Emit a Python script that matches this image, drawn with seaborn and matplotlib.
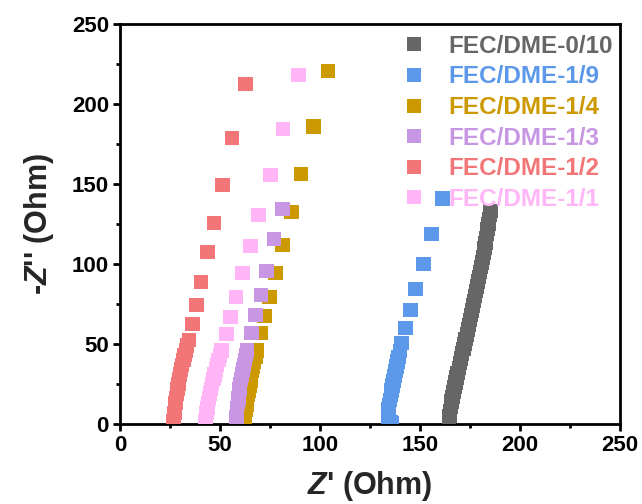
import numpy as np
import pandas as pd
import matplotlib
matplotlib.use("Agg")
import matplotlib.pyplot as plt
from matplotlib.ticker import MultipleLocator
import seaborn as sns

# Nyquist data, Z' and -Z'' in Ohm, for each electrolyte ratio
labels = ["FEC/DME-0/10", "FEC/DME-1/9", "FEC/DME-1/4",
          "FEC/DME-1/3", "FEC/DME-1/2", "FEC/DME-1/1"]
colors = ["#666666", "#5B98EA", "#CC9900", "#C797E3", "#F27678", "#FFB5F6"]

zre_0_10 = [164.5, 164.6, 164.8, 165.1, 165.4, 165.8, 166.3, 166.8, 167.3, 167.7,
            168.2, 168.8, 169.4, 169.9, 170.5, 171.1, 171.7, 172.3, 172.8, 173.4,
            173.9, 174.5, 175.0, 175.6, 176.1, 176.6, 177.1, 177.6, 178.1, 178.6,
            179.1, 179.6, 180.1, 180.6, 181.0, 181.4, 181.9, 182.3, 182.7, 183.1,
            183.5, 183.8, 184.2, 184.6, 184.9, 185.2]
zim_0_10 = [0, 2.5, 5, 8, 11, 14, 17, 20, 23, 26,
            29, 32, 35, 38, 41, 44, 47, 50, 53, 56,
            59, 62, 65, 68, 71, 74, 77, 80, 83, 86,
            89, 92, 95, 98, 101, 104, 107, 110, 113, 116,
            119, 122, 125, 128, 131, 133]

zre_1_9 = [136.0, 135.2, 134.3, 134.0, 134.0, 134.2, 134.6, 135.0, 135.4, 135.8,
           136.3, 136.8, 137.3, 137.8, 138.3, 138.8, 139.3, 139.9,
           140.7, 142.8, 145.3, 147.8, 151.7, 155.7, 161.2]
zim_1_9 = [0.3, 1.2, 2.5, 4.5, 7, 9.5, 12, 15, 18, 21,
           24, 27, 30, 33, 36, 39, 42, 45.5,
           50.8, 60.2, 71.3, 84.2, 100.0, 118.8, 141.0]

zre_1_4 = [62.0, 62.3, 62.6, 62.9, 63.2, 63.6, 64.0, 64.4, 64.8, 65.2,
           65.6, 66.1, 66.6, 67.1, 67.7, 68.5,
           70.5, 72.3, 74.7, 77.7, 81.2, 85.7, 90.5, 96.7, 104.0]
zim_1_4 = [0, 3, 6, 9, 12, 15, 18, 21, 24, 27,
           30, 33, 36, 39, 42, 46,
           57.0, 67.3, 79.6, 94.6, 111.9, 132.3, 156.4, 186.0, 220.4]

zre_1_3 = [58.0, 58.1, 58.2, 58.4, 58.6, 58.9, 59.2, 59.5, 59.8, 60.1,
           60.5, 60.9, 61.4, 61.9, 62.4, 62.9, 63.4,
           65.8, 67.7, 70.5, 73.3, 77.0, 81.2]
zim_1_3 = [0, 2, 4, 7, 10, 13, 16, 19, 22, 25,
           28, 31, 34, 37, 40, 43, 46,
           57.0, 68.1, 80.6, 95.8, 115.4, 134.4]

zre_1_2 = [26.5, 26.7, 26.9, 27.2, 27.5, 27.8, 28.1, 28.4, 28.8, 29.2,
           29.6, 30.1, 30.6, 31.1, 31.7, 32.3, 32.9, 33.6,
           34.5, 36.2, 38.2, 40.5, 43.7, 47.0, 51.2, 56.0, 62.8]
zim_1_2 = [0, 2, 4, 7, 10, 13, 16, 19, 22, 25,
           28, 31, 34, 37, 40, 43, 46, 49,
           52.5, 62.5, 74.4, 88.8, 107.5, 125.6, 149.6, 178.6, 212.5]

zre_1_1 = [42.5, 42.7, 42.9, 43.3, 43.7, 44.1, 44.6, 45.1, 45.6, 46.1,
           46.7, 47.3, 47.9, 48.6, 49.3, 50.0, 50.8,
           53.2, 55.3, 58.0, 61.3, 65.3, 69.3, 75.2, 81.5, 89.3]
zim_1_1 = [0, 2, 4, 7, 10, 13, 16, 19, 22, 25,
           28, 31, 34, 37, 40, 43, 46,
           56.3, 66.7, 79.4, 94.2, 111.3, 130.8, 155.4, 184.2, 218.0]

series = [(zre_0_10, zim_0_10), (zre_1_9, zim_1_9), (zre_1_4, zim_1_4),
          (zre_1_3, zim_1_3), (zre_1_2, zim_1_2), (zre_1_1, zim_1_1)]

frames = []
for lab, (zr, zi) in zip(labels, series):
    frames.append(pd.DataFrame({"Z_re": zr, "Z_im": zi, "sample": lab}))
df = pd.concat(frames, ignore_index=True)

sns.set_theme(style="ticks")
plt.rcParams["font.family"] = ["Liberation Sans", "DejaVu Sans"]
plt.rcParams["font.weight"] = "bold"
plt.rcParams["mathtext.fontset"] = "custom"
plt.rcParams["mathtext.it"] = "Liberation Sans:italic:bold"
plt.rcParams["mathtext.bf"] = "Liberation Sans:bold"
plt.rcParams["mathtext.rm"] = "Liberation Sans:bold"

fig = plt.figure(figsize=(6.42, 5.04), dpi=100)
ax = fig.add_axes([120 / 642, 80 / 504, 500 / 642, 400 / 504])

sns.scatterplot(data=df, x="Z_re", y="Z_im", hue="sample", hue_order=labels,
                palette=colors, marker="s", s=105, linewidth=0, alpha=1.0,
                ax=ax, legend=True, zorder=3)

ax.set_xlim(0, 250)
ax.set_ylim(0, 250)
ax.xaxis.set_major_locator(MultipleLocator(50))
ax.xaxis.set_minor_locator(MultipleLocator(25))
ax.yaxis.set_major_locator(MultipleLocator(50))
ax.yaxis.set_minor_locator(MultipleLocator(25))

for side in ["left", "bottom", "right", "top"]:
    ax.spines[side].set_visible(True)
    ax.spines[side].set_linewidth(2.0)
    ax.spines[side].set_color("black")

ax.tick_params(axis="both", which="major", direction="out", length=5, width=2,
               labelsize=16, pad=3, color="black", labelcolor="black")
ax.tick_params(axis="both", which="minor", direction="out", length=3, width=2,
               color="black")
for t in ax.get_xticklabels() + ax.get_yticklabels():
    t.set_fontweight("bold")

ax.set_xlabel(r"$Z$' (Ohm)", fontsize=22, fontweight="bold", labelpad=9)
ax.set_ylabel(r"-$Z$'' (Ohm)", fontsize=22, fontweight="bold", labelpad=11)

handles, hlabels = ax.get_legend_handles_labels()
leg = ax.legend(handles, hlabels, loc="upper right", frameon=False,
                bbox_to_anchor=(1.007, 1.0),
                fontsize=17.5, handletextpad=0.9, labelspacing=0.31,
                borderaxespad=0.05, handlelength=1.0, markerscale=1.0)
for txt, col in zip(leg.get_texts(), colors):
    txt.set_color(col)
    txt.set_fontweight("bold")

fig.savefig("out.png", dpi=100)
